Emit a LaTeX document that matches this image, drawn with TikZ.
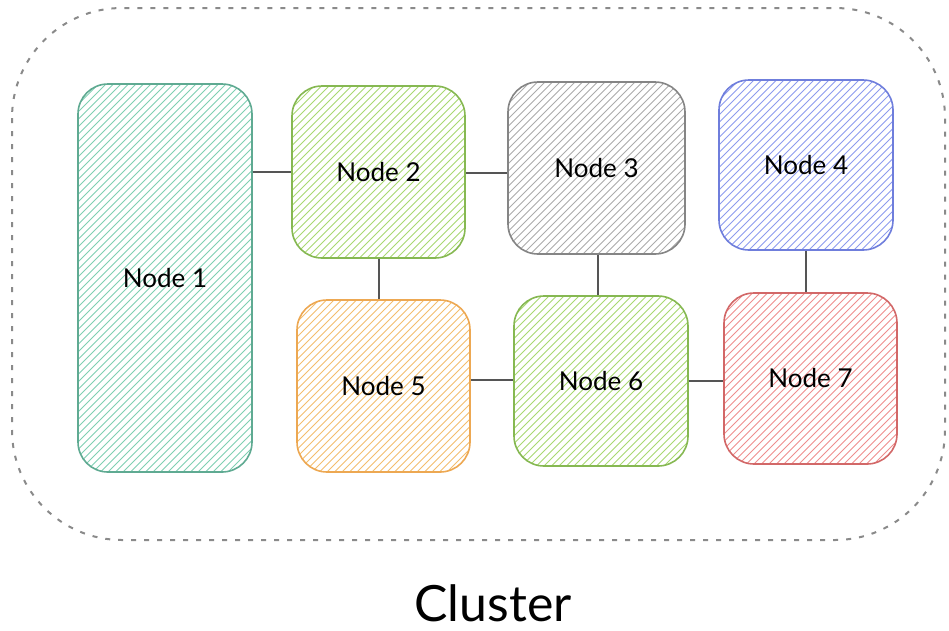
\documentclass[tikz,border=0pt]{standalone}
\usepackage{fontspec}
\setmainfont{Lato}
\definecolor{tealS}{HTML}{5FAA92}\definecolor{tealH}{HTML}{7FCFB2}
\definecolor{limeS}{HTML}{86B852}\definecolor{limeH}{HTML}{A8D872}
\definecolor{grayS}{HTML}{858585}\definecolor{grayH}{HTML}{ABABAB}
\definecolor{blueS}{HTML}{6F7EDC}\definecolor{blueH}{HTML}{8D9BEE}
\definecolor{orngS}{HTML}{EDA852}\definecolor{orngH}{HTML}{F3BD6E}
\definecolor{redS}{HTML}{D26868}\definecolor{redH}{HTML}{EE8E8E}
\definecolor{link}{HTML}{555555}
\definecolor{frame}{HTML}{8A8A8A}
\tikzset{
  hatched/.style={path picture={
      \foreach \k in {-60,...,30}
        \draw[line width=0.9pt,#1]
          ([xshift=\k*7.5pt]path picture bounding box.south west) -- ++(460pt,460pt);}},
  box/.style 2 args={draw=#1, line width=1.6pt, rounded corners=30pt,
      hatched=#2, font=\fontsize{26}{30}\selectfont, text=black},
  wire/.style={draw=link, line width=1.3pt},
}
\begin{document}
\begin{tikzpicture}[x=1pt,y=-1pt]
  \useasboundingbox (0,0) rectangle (949,630);
  % cluster outline
  \draw[frame, line width=2pt, dash pattern=on 5pt off 8pt, rounded corners=110pt]
    (12,8) rectangle (945,540);
  \node[font=\fontsize{50}{56}\selectfont, inner sep=0pt, anchor=base] (cl) at (493,621) {Cluster};
  % nodes
  \node[box={tealS}{tealH}, minimum width=174pt, minimum height=388pt] (n1) at (165,278) {Node 1};
  \node[box={limeS}{limeH}, minimum width=173pt, minimum height=172pt] (n2) at (378.5,172) {Node 2};
  \node[box={grayS}{grayH}, minimum width=177pt, minimum height=172pt] (n3) at (596.5,168) {Node 3};
  \node[box={blueS}{blueH}, minimum width=174pt, minimum height=170pt] (n4) at (806,165) {Node 4};
  \node[box={orngS}{orngH}, minimum width=173pt, minimum height=172pt] (n5) at (383.5,386) {Node 5};
  \node[box={limeS}{limeH}, minimum width=174pt, minimum height=170pt] (n6) at (601,381) {Node 6};
  \node[box={redS}{redH}, minimum width=173pt, minimum height=171pt] (n7) at (810.5,378.5) {Node 7};
  % links
  \draw[wire] (n1.east |- 0,172) -- (n2.west |- 0,172);
  \draw[wire] (n2.east |- 0,173) -- (n3.west |- 0,173);
  \draw[wire] (n2.south -| 379,0) -- (n5.north -| 379,0);
  \draw[wire] (n3.south -| 598,0) -- (n6.north -| 598,0);
  \draw[wire] (n4.south -| 806,0) -- (n7.north -| 806,0);
  \draw[wire] (n5.east |- 0,380) -- (n6.west |- 0,380);
  \draw[wire] (n6.east |- 0,381) -- (n7.west |- 0,381);
\end{tikzpicture}
\end{document}
